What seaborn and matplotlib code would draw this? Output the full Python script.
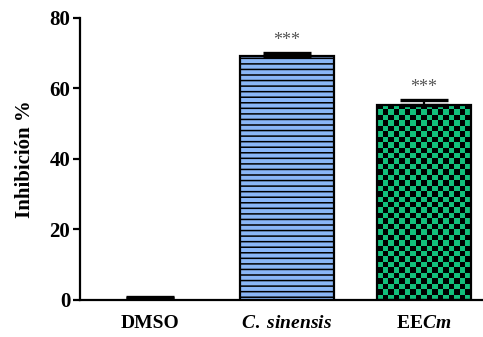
import numpy as np
import pandas as pd
import matplotlib.pyplot as plt
import seaborn as sns

# values
groups = ['DMSO', 'C. sinensis', 'EECm']
labels = ['DMSO', r'$\mathit{C.\ sinensis}$', r'EE$\mathbfit{Cm}$']
inhib = [0.5, 69.1, 55.4]
err = [0.3, 0.9, 1.4]
stars = ['', '***', '***']

sns.set_theme(style='ticks')
plt.rcParams.update({
    'font.family': ['Liberation Serif', 'DejaVu Serif'],
    'font.weight': 'bold',
    'text.color': 'black',
    'axes.labelcolor': 'black',
    'xtick.color': 'black',
    'ytick.color': 'black',
    'mathtext.fontset': 'custom',
    'mathtext.rm': 'Liberation Serif:bold',
    'mathtext.it': 'Liberation Serif:italic:bold',
    'mathtext.bf': 'Liberation Serif:bold',
    'mathtext.bfit': 'Liberation Serif:italic:bold',
    'hatch.linewidth': 1.1,
    'hatch.color': '#222222',
})

df = pd.DataFrame({'group': groups, 'inhib': inhib})

fig = plt.figure(figsize=(4.83, 3.37), dpi=100)
ax = fig.add_axes([0.1656, 0.1098, 0.8344, 0.8368])

sns.barplot(data=df, x='group', y='inhib', ax=ax, width=0.68, saturation=1,
            palette=['white', '#8ab6f6', '#000000'], hue='group', legend=False,
            edgecolor='black', linewidth=1.6, errorbar=None)

bars = ax.patches
bars[0].set_edgecolor('none')
bars[1].set_hatch('---')

# checkerboard fill for EECm bar, clipped to the bar
b = bars[2]
x0, y0 = b.get_x(), b.get_y()
w, h = b.get_width(), b.get_height()
nx, ny = 17, 36
checker = (np.add.outer(np.arange(ny), np.arange(nx)) % 2)
cmap = plt.matplotlib.colors.ListedColormap(['#000000', '#12c07c'])
im = ax.imshow(checker, cmap=cmap, extent=[x0, x0 + w, y0, y0 + h],
               aspect='auto', origin='upper', interpolation='nearest', zorder=b.get_zorder())
im.set_clip_path(b)
b.set_facecolor('none')
b.set_zorder(im.get_zorder() + 0.1)

xs = np.arange(len(groups))
lo = np.zeros(len(groups))
ax.errorbar(xs, inhib, yerr=[lo, err], fmt='none', ecolor='black',
            elinewidth=1.6, capsize=17, capthick=2.4, zorder=5)

for x, v, e, s in zip(xs, inhib, err, stars):
    if s:
        ax.text(x, v + e + 1.2, s, ha='center', va='bottom', fontsize=13,
                fontweight='normal', color='#555555')

ax.set_xlim(-0.511, 2.43)
ax.set_ylim(0, 80)
ax.set_yticks([0, 20, 40, 60, 80])
ax.set_xticks(xs)
ax.set_xticklabels(labels)
ax.tick_params(axis='x', length=0, labelsize=14, pad=11)
ax.set_xticks([1], minor=True)
ax.tick_params(axis='x', which='minor', length=5, width=1.6, color='black')
ax.tick_params(axis='y', length=5, width=1.6, labelsize=15, color='black', pad=2)
ax.set_xlabel('')
ax.set_ylabel('Inhibición %', fontsize=15, fontweight='bold', labelpad=10)
for sp in ['left', 'bottom']:
    ax.spines[sp].set_linewidth(1.6)
    ax.spines[sp].set_color('black')
sns.despine(ax=ax)
ax.set_axisbelow(False)

plt.savefig('out.png', dpi=100)
